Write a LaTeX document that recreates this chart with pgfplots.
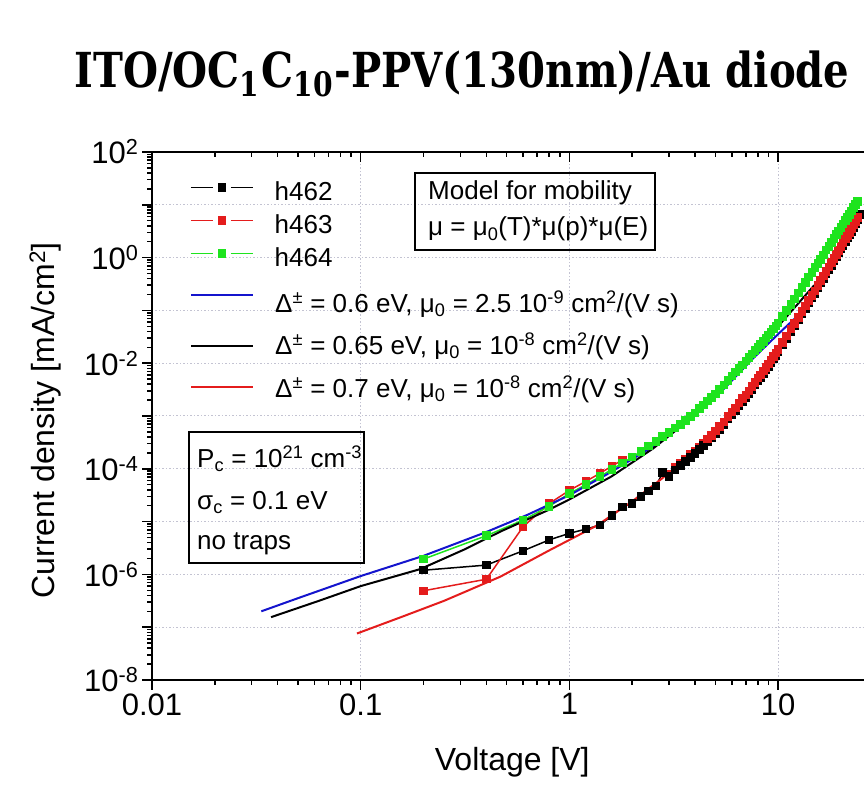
\documentclass[border=0pt]{standalone}
\usepackage{pgfplots}
\pgfplotsset{compat=1.18}
\usepackage{fontspec}
\setmainfont{Liberation Sans}
\newfontfamily\titlefont{DejaVu Serif}
\definecolor{cgreen}{RGB}{30,228,30}
\definecolor{cred}{RGB}{228,28,28}
\definecolor{cblue}{RGB}{20,20,205}
\definecolor{cgrid}{RGB}{195,195,210}
\pgfplotsset{
  datalegend/.style={legend image code/.code={
    \draw[##1,mark=none] (0pt,9pt) -- (22pt,9pt);
    \draw[##1,mark=none] (40pt,9pt) -- (62pt,9pt);
    \draw[##1,only marks] plot coordinates {(31pt,9pt)};}},
  linelegendA/.style={legend image code/.code={
    \draw[##1] (0pt,8pt) -- (62pt,8pt);}},
  linelegendB/.style={legend image code/.code={
    \draw[##1] (0pt,0pt) -- (62pt,0pt);}},
  linelegendC/.style={legend image code/.code={
    \draw[##1] (0pt,1pt) -- (62pt,1pt);}},
}
\begin{document}
\begin{tikzpicture}
\path[use as bounding box] (0pt,0pt) rectangle (864pt,786pt);
\node[anchor=base,inner sep=0pt] at (462pt,698pt) {\resizebox{775pt}{!}{\scalebox{1}[1.2]{\titlefont\bfseries ITO/OC\textsubscript{1}C\textsubscript{10}-PPV(130nm)/Au diode}}};
\begin{axis}[
  at={(152pt,106pt)}, anchor=south west,
  scale only axis, width=712pt, height=528pt,
  xmode=log, ymode=log, log basis y=10,
  xmin=0.01, xmax=25.8, ymin=1e-8, ymax=1e2,
  axis line style={line width=2.2pt,-},
  major tick length=10pt, minor tick length=5pt,
  every tick/.style={black,line width=1.5pt},
  legend cell align=left,
  axis x line*=bottom, axis y line*=left,
  tick align=outside,
  xtick={0.01,0.1,1,10}, xticklabels={0.01,0.1,1,10},
  ytick={1e-8,1e-7,1e-6,1e-5,1e-4,1e-3,1e-2,1e-1,1,10,100},
  minor ytick={2e-8,3e-8,4e-8,5e-8,6e-8,7e-8,8e-8,9e-8,
    2e-7,3e-7,4e-7,5e-7,6e-7,7e-7,8e-7,9e-7,
    2e-6,3e-6,4e-6,5e-6,6e-6,7e-6,8e-6,9e-6,
    2e-5,3e-5,4e-5,5e-5,6e-5,7e-5,8e-5,9e-5,
    2e-4,3e-4,4e-4,5e-4,6e-4,7e-4,8e-4,9e-4,
    2e-3,3e-3,4e-3,5e-3,6e-3,7e-3,8e-3,9e-3,
    2e-2,3e-2,4e-2,5e-2,6e-2,7e-2,8e-2,9e-2,
    0.2,0.3,0.4,0.5,0.6,0.7,0.8,0.9,
    2,3,4,5,6,7,8,9,20,30,40,50,60,70,80,90},
  yticklabel={\pgfmathtruncatemacro\e{round(\tick)}\ifodd\e\relax\else 10\textsuperscript{\e}\fi},
  grid=major, grid style={cgrid,line width=1pt,dash pattern=on 1.5pt off 2pt},
  tick label style={font=\fontsize{31}{31}\selectfont},
  xlabel={Voltage [V]}, ylabel={Current density [mA/cm\textsuperscript{2}]},
  label style={font=\fontsize{32}{32}\selectfont},
  xlabel style={at={(axis description cs:0.506,-0.155)},anchor=center},
  ylabel style={at={(axis description cs:-0.150,0.492)},anchor=center},
  legend style={at={(axis description cs:0.0534,0.947)}, anchor=north west,
    draw=none, fill=none, inner sep=0pt, row sep=0pt, column sep=21pt,
    nodes={inner sep=0pt, text height=20pt, text depth=13pt},
    font=\fontsize{26}{26}\selectfont},
]
% h463, 3.0-4.6 V (drawn under h462)
\addplot[cred, line width=1.5pt, mark=square*, mark size=3.5pt, forget plot] coordinates {
(3.0,8.0e-5)(3.2,1.06e-4)(3.4,1.29e-4)(3.6,1.55e-4)(3.8,1.85e-4)(4.0,2.18e-4)(4.2,2.58e-4)(4.4,3.08e-4)(4.6,3.64e-4)};
\addplot[black, line width=1.5pt, mark=square*, mark size=3.5pt, datalegend] coordinates {
(0.2,1.2e-6)(0.4,1.5e-6)(0.6,2.8e-6)(0.8,4.5e-6)(1.0,6.0e-6)(1.2,7.2e-6)(1.4,8.6e-6)(1.6,1.3e-5)(1.8,1.9e-5)(2.0,2.2e-5)(2.2,3.0e-5)(2.4,3.8e-5)(2.6,4.7e-5)(2.8,8.5e-5)(3.0,7.1e-5)(3.2,9.5e-5)(3.4,1.15e-4)(3.6,1.38e-4)(3.8,1.65e-4)(4.0,1.95e-4)(4.2,2.3e-4)(4.4,2.75e-4)(4.6,3.25e-4)(4.8,3.85e-4)(5.0,4.6e-4)
(5.25,5.6e-4)(5.5,6.9e-4)(5.75,8.7e-4)(6.0,1.07e-3)(6.25,1.28e-3)(6.5,1.57e-3)(6.75,1.9e-3)(7.0,2.24e-3)(7.25,2.68e-3)(7.5,3.2e-3)(7.75,3.85e-3)(8.0,4.6e-3)(8.25,5.4e-3)(8.5,6.3e-3)(8.75,7.4e-3)(9.0,8.7e-3)(9.25,1.02e-2)(9.5,1.2e-2)(9.75,1.4e-2)(10,1.62e-2)
(10.5,2.2e-2)(11,2.9e-2)(11.5,3.9e-2)(12,5.1e-2)(12.5,6.6e-2)(13,8.5e-2)(13.5,0.107)(14,0.137)(14.5,0.17)
(15,0.21)(15.5,0.265)(16,0.33)(16.5,0.40)(17,0.49)(17.5,0.59)(18,0.71)(18.5,0.86)(19,1.03)(19.5,1.22)(20,1.44)(20.5,1.7)(21,2.0)(21.5,2.33)(22,2.7)(22.5,3.15)(23,3.7)(23.5,4.4)(24,5.2)(24.5,6.5)};
\addlegendentry{h462}
% h463, 4.6-24 V (drawn over h462)
\addplot[cred, line width=1.5pt, mark=square*, mark size=3.5pt, forget plot] coordinates {
(4.6,3.64e-4)(4.8,4.3e-4)(5.0,5.15e-4)
(5.25,6.3e-4)(5.5,7.7e-4)(5.75,9.7e-4)(6.0,1.2e-3)(6.25,1.43e-3)(6.5,1.76e-3)(6.75,2.13e-3)(7.0,2.5e-3)(7.25,3.0e-3)(7.5,3.6e-3)(7.75,4.3e-3)(8.0,5.2e-3)(8.25,6.0e-3)(8.5,7.1e-3)(8.75,8.3e-3)(9.0,9.7e-3)(9.25,1.14e-2)(9.5,1.34e-2)(9.75,1.57e-2)(10,1.81e-2)
(10.5,2.46e-2)(11,3.25e-2)(11.5,4.4e-2)(12,5.7e-2)(12.5,7.4e-2)(13,9.5e-2)(13.5,0.12)(14,0.153)(14.5,0.19)
(15,0.235)(15.5,0.297)(16,0.37)(16.5,0.45)(17,0.55)(17.5,0.66)(18,0.8)(18.5,0.96)(19,1.15)(19.5,1.37)(20,1.61)(20.5,1.9)(21,2.24)(21.5,2.6)(22,3.0)(22.5,3.5)(23,4.1)(23.5,4.8)(24,5.8)};
\addplot[cred, line width=1.5pt, mark=square*, mark size=3.5pt, datalegend] coordinates {
(0.2,4.9e-7)(0.4,8.1e-7)(0.6,8.0e-6)(0.8,2.2e-5)(1.0,3.9e-5)(1.2,5.8e-5)(1.4,8.2e-5)(1.6,1.13e-4)(1.8,1.48e-4)};
\addlegendentry{h463}
\addplot[cgreen, line width=1.5pt, mark=square*, mark size=3.5pt, datalegend] coordinates {
(0.2,1.95e-6)(0.4,5.4e-6)(0.6,1.07e-5)(0.8,1.95e-5)(1.0,3.4e-5)(1.2,5.0e-5)(1.4,7.1e-5)(1.6,9.8e-5)(1.8,1.29e-4)(2.0,1.66e-4)(2.2,2.14e-4)(2.4,2.7e-4)(2.6,3.3e-4)(2.8,4.1e-4)(3.0,4.9e-4)(3.2,5.9e-4)(3.4,6.9e-4)(3.6,8.3e-4)(3.8,9.8e-4)(4.0,1.15e-3)(4.2,1.38e-3)(4.4,1.62e-3)(4.6,1.91e-3)(4.8,2.24e-3)(5.0,2.6e-3)
(5.25,3.2e-3)(5.5,3.9e-3)(5.75,4.7e-3)(6.0,5.7e-3)(6.25,6.8e-3)(6.5,8.0e-3)(6.75,9.3e-3)(7.0,1.1e-2)(7.25,1.28e-2)(7.5,1.5e-2)(7.75,1.73e-2)(8.0,2.0e-2)(8.25,2.28e-2)(8.5,2.6e-2)(8.75,2.98e-2)(9.0,3.4e-2)(9.25,3.87e-2)(9.5,4.4e-2)(9.75,5.05e-2)(10,5.8e-2)
(10.5,7.6e-2)(11,0.10)(11.5,0.13)(12,0.166)(12.5,0.214)(13,0.27)(13.5,0.34)(14,0.43)(14.5,0.52)
(15,0.65)(15.5,0.78)(16,0.93)(16.5,1.13)(17,1.38)(17.5,1.64)(18,1.95)(18.5,2.32)(19,2.75)(19.5,3.2)(20,3.7)(20.5,4.3)(21,5.0)(21.5,5.75)(22,6.6)(22.5,7.7)(23,8.9)(23.5,10.1)(24,11.5)};
\addlegendentry{h464}
\addplot[cblue, line width=2pt] coordinates {
(0.0334,2.0e-7)(0.0501,3.55e-7)(0.1,9.3e-7)(0.1995,2.24e-6)(0.398,6.3e-6)(0.631,1.35e-5)(1,3.16e-5)(1.585,8.7e-5)(2.51,2.63e-4)(3.55,7.1e-4)(4.4,1.41e-3)(5.62,3.55e-3)(7.4,1.12e-2)(10,3.55e-2)(12.8,8.9e-2)};
\addplot[black, line width=2pt] coordinates {
(0.0372,1.55e-7)(0.0631,3.16e-7)(0.1,6.0e-7)(0.193,1.26e-6)(0.316,3.0e-6)(0.468,6.5e-6)(0.794,1.66e-5)(1,2.63e-5)(1.585,7.1e-5)(2.51,2.4e-4)(3.55,7.1e-4)(4.4,1.78e-3)(5.62,4.7e-3)(7.4,1.45e-2)(10,5.0e-2)(12.6,0.141)(14.9,0.30)};
\addplot[cred, line width=2pt] coordinates {
(0.096,7.6e-8)(0.158,1.58e-7)(0.251,3.16e-7)(0.468,9.1e-7)(0.794,2.8e-6)(1.0,4.5e-6)(1.36,8.5e-6)(1.585,1.29e-5)(1.995,2.4e-5)(2.73,6.2e-5)(3.16,1.0e-4)(3.55,1.45e-4)(3.98,2.1e-4)(4.47,3.2e-4)(5.01,4.9e-4)(5.62,7.9e-4)(6.31,1.35e-3)(7.08,2.4e-3)(7.94,4.4e-3)(8.91,8.3e-3)(10,1.62e-2)(11.2,3.3e-2)(12.6,6.9e-2)(14.1,0.145)(15.8,0.31)(17.8,0.66)(20.0,1.41)(22.4,3.0)(24.8,6.0)};
\end{axis}
\begin{axis}[
  at={(152pt,106pt)}, anchor=south west,
  scale only axis, width=712pt, height=528pt,
  xmode=log, ymode=log,
  xmin=0.01, xmax=25.8, ymin=1e-8, ymax=1e2,
  axis line style={line width=2.2pt,-},
  major tick length=10pt, minor tick length=5pt,
  every tick/.style={black,line width=1.5pt},
  legend cell align=left,
  axis x line*=top, axis y line=none,
  tick align=inside,
  xtick={0.01,0.1,1,10}, xticklabels={}, ytick=\empty,
  legend style={at={(axis description cs:0.0534,0.7538)}, anchor=north west,
    draw=none, fill=none, inner sep=0pt, row sep=0pt, column sep=21pt,
    nodes={inner sep=0pt, text height=30pt, text depth=12.5pt},
    font=\fontsize{26}{26}\selectfont},
]
\addlegendimage{cblue, line width=2pt, linelegendA}
\addlegendentry{Δ\textsuperscript{±} = 0.6 eV, μ\textsubscript{0} = 2.5 10\textsuperscript{-9} cm\textsuperscript{2}/(V s)}
\addlegendimage{black, line width=2pt, linelegendB}
\addlegendentry{Δ\textsuperscript{±} = 0.65 eV, μ\textsubscript{0} = 10\textsuperscript{-8} cm\textsuperscript{2}/(V s)}
\addlegendimage{cred, line width=2pt, linelegendC}
\addlegendentry{Δ\textsuperscript{±} = 0.7 eV, μ\textsubscript{0} = 10\textsuperscript{-8} cm\textsuperscript{2}/(V s)}
\end{axis}
\begin{scope}[every node/.style={anchor=base west,inner sep=0pt,font=\fontsize{26}{26}\selectfont}]
\draw[line width=1.5pt] (415pt,613pt) rectangle (655pt,536pt);
\node at (428pt,586pt) {Model for mobility};
\node at (428pt,550pt) {μ = μ\textsubscript{0}(T)*μ(p)*μ(E)};
\draw[line width=1.5pt] (189pt,354pt) rectangle (364pt,223pt);
\node at (197pt,318pt) {P\textsubscript{c} = 10\textsuperscript{21} cm\textsuperscript{-3}};
\node at (197pt,276pt) {σ\textsubscript{c} = 0.1 eV};
\node at (197pt,236pt) {no traps};
\end{scope}
\end{tikzpicture}
\end{document}
